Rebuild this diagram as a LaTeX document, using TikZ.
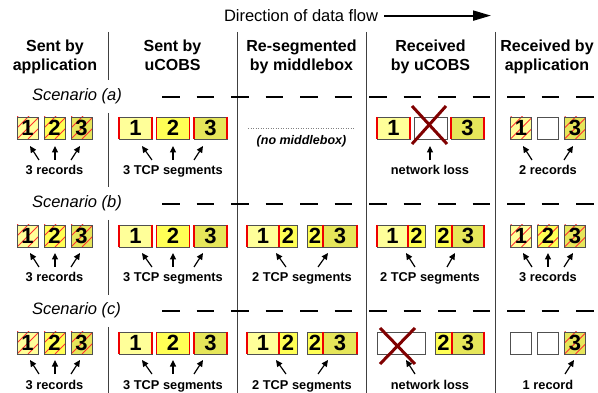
\documentclass[tikz,border=0pt]{standalone}
\usepackage{fontspec}
\setmainfont{Liberation Sans}
\usetikzlibrary{arrows.meta}

\definecolor{fillA}{HTML}{FFFF99}
\definecolor{fillB}{HTML}{FFFF55}
\definecolor{fillC}{HTML}{E6E65A}
\definecolor{edgegray}{HTML}{505050}
\definecolor{seggray}{HTML}{404040}
\definecolor{segred}{HTML}{EE0000}
\definecolor{hatchred}{HTML}{FF3030}
\definecolor{lossred}{HTML}{800000}

% pointer from a label up to a box: name, tip x, tip y, tail x, tail y
\newcommand\pointer[5]{%
  \coordinate (#1t) at (#2,#3);
  \coordinate (#1e) at (#4,#5);
  \draw[ptr] (#1e) -- (#1t);}

\begin{document}
\begin{tikzpicture}[x=1pt,y=-1pt,
  every node/.style={inner sep=0pt, outer sep=0pt},
  head/.style={font=\fontsize{16}{19}\selectfont\bfseries, anchor=base},
  scen/.style={font=\fontsize{16.5}{19}\selectfont\itshape, anchor=base west},
  lbl/.style={font=\fontsize{12.8}{15}\selectfont\bfseries, anchor=base},
  box/.style={draw=edgegray, line width=0.9pt, minimum height=22pt,
    font=\fontsize{22}{22}\selectfont\bfseries},
  hatch/.style={path picture={\foreach \k in {-22,-11,0,11}{%
      \draw[hatchred, line width=0.8pt]
        ([xshift=\k pt]path picture bounding box.south west) -- ++(30pt,30pt);}}},
  rec/.style={box, minimum width=21pt, hatch},
  blank/.style={box, fill=white},
  seg/.style={box, minimum width=#1},
  redge/.style={draw=segred, line width=1.6pt},
  sepline/.style={draw=seggray, line width=0.9pt},
  dashline/.style={draw=black, line width=2pt, dash pattern=on 17.5pt off 17pt},
  ptr/.style={line width=1.2pt, -{Triangle[length=6.5pt,width=6pt]}},
  flow/.style={line width=2pt, -{Triangle[length=18pt,width=10pt]}},
  loss/.style={draw=lossred, line width=3pt},
]
\useasboundingbox (0,0) rectangle (598,393);

% ---------- title arrow ----------
\node[font=\fontsize{16.5}{19}\selectfont, anchor=base west] (dirtxt) at (224,21.5) {Direction of data flow};
\coordinate (dirend) at (491,15);
\draw[flow] ([xshift=6pt]dirtxt.east) -- (dirtxt.east -| dirend);

% ---------- column headings ----------
\node[head] (h1a) at (55,52) {Sent by};
\node[head] (h1b) at (55,71) {application};
\node[head] (h2a) at (172.5,52) {Sent by};
\node[head] (h2b) at (172.5,71) {uCOBS};
\node[head] (h3a) at (301.5,52) {Re-segmented};
\node[head] (h3b) at (301.5,71) {by middlebox};
\node[head] (h4a) at (430.5,52) {Received};
\node[head] (h4b) at (430.5,71) {by uCOBS};
\node[head] (h5a) at (547,52) {Received by};
\node[head] (h5b) at (547,71) {application};

% ---------- column separators ----------
\foreach \i/\ya/\yb in {1/32/80, 2/113/187, 3/220/295, 4/327/393}{
  \coordinate (sa\i) at (108,\ya);
  \coordinate (sb\i) at (108,\yb);
  \draw[sepline] (sa\i) -- (sb\i);}
\foreach \i/\x in {2/237, 3/366, 4/495}{
  \coordinate (vt\i) at (\x,32);
  \coordinate (vb\i) at (\x,393);
  \draw[sepline] (vt\i) -- (vb\i);}

% ---------- scenario headings ----------
\foreach \s/\yb/\yd in {a/100.5/97, b/207.5/204, c/314.5/311}{
  \node[scen] (scen\s) at (32,\yb) {Scenario (\s)};
  \coordinate (dl\s) at (162,\yd);
  \coordinate (dr\s) at (598,\yd);
  \draw[dashline] (dl\s) -- (dr\s);}

% ================= Scenario (a) =================
% sent by application
\node[rec, fill=fillA] (a1r1) at (27.5,128) {1};
\node[rec, fill=fillB] (a1r2) at (54.5,128) {2};
\node[rec, fill=fillC] (a1r3) at (81.5,128) {3};
\node[lbl] (a1lbl) at (54.5,175) {3 records};
\pointer{a1p1}{30}{146}{39}{160}
\pointer{a1p2}{55}{146}{55}{160}
\pointer{a1p3}{80}{146}{71}{160}
% sent by uCOBS
\node[seg=33pt, fill=fillA] (a2s1) at (135.5,128) {1};
\node[seg=33pt, fill=fillB] (a2s2) at (173,128) {2};
\node[seg=33pt, fill=fillC] (a2s3) at (210.5,128) {3};
\foreach \n in {a2s1,a2s2,a2s3}{
  \draw[redge] (\n.north west) -- (\n.south west);
  \draw[redge] (\n.north east) -- (\n.south east);}
\node[lbl] (a2lbl) at (173,175) {3 TCP segments};
\pointer{a2p1}{142}{146}{152}{160}
\pointer{a2p2}{173}{146}{173}{160}
\pointer{a2p3}{203}{146}{194}{160}
% no middlebox
\coordinate (nmL) at (248,128);
\coordinate (nmR) at (355,128);
\draw[gray, line width=0.8pt, dash pattern=on 1pt off 1.5pt] (nmL) -- (nmR);
\node[font=\fontsize{12.5}{15}\selectfont\bfseries\itshape, anchor=base] (nomb) at (301.5,145) {(no middlebox)};
% received by uCOBS
\node[seg=33pt, fill=fillA] (a4s1) at (393.5,128) {1};
\node[seg=33pt, blank] (a4s2) at (430.5,128) {};
\node[seg=33pt, fill=fillC] (a4s3) at (467.5,128) {3};
\foreach \n in {a4s1,a4s3}{
  \draw[redge] (\n.north west) -- (\n.south west);
  \draw[redge] (\n.north east) -- (\n.south east);}
\draw[loss] ([xshift=-18.5pt,yshift=22pt]a4s2.center) -- ([xshift=16.5pt,yshift=-16pt]a4s2.center);
\draw[loss] ([xshift=15.5pt,yshift=22pt]a4s2.center) -- ([xshift=-18.5pt,yshift=-16pt]a4s2.center);
\node[lbl] (a4lbl) at (430,175) {network loss};
\pointer{a4p1}{430}{146}{430}{160}
% received by application
\node[rec, fill=fillA] (a5r1) at (521,128) {1};
\node[box, minimum width=21pt, fill=white] (a5r2) at (548,128) {};
\node[rec, fill=fillC] (a5r3) at (575,128) {3};
\node[lbl] (a5lbl) at (548,175) {2 records};
\pointer{a5p1}{523}{146}{532}{160}
\pointer{a5p3}{573}{146}{564}{160}

% ================= Scenario (b) =================
\node[rec, fill=fillA] (b1r1) at (27.5,236) {1};
\node[rec, fill=fillB] (b1r2) at (54.5,236) {2};
\node[rec, fill=fillC] (b1r3) at (81.5,236) {3};
\node[lbl] (b1lbl) at (54.5,282) {3 records};
\pointer{b1p1}{30}{253}{39}{267}
\pointer{b1p2}{55}{253}{55}{267}
\pointer{b1p3}{80}{253}{71}{267}

\node[seg=33pt, fill=fillA] (b2s1) at (135.5,236) {1};
\node[seg=33pt, fill=fillB] (b2s2) at (173,236) {2};
\node[seg=33pt, fill=fillC] (b2s3) at (210.5,236) {3};
\foreach \n in {b2s1,b2s2,b2s3}{
  \draw[redge] (\n.north west) -- (\n.south west);
  \draw[redge] (\n.north east) -- (\n.south east);}
\node[lbl] (b2lbl) at (173,282) {3 TCP segments};
\pointer{b2p1}{142}{253}{152}{267}
\pointer{b2p2}{173}{253}{173}{267}
\pointer{b2p3}{203}{253}{194}{267}

% re-segmented by middlebox
\node[seg=32pt, fill=fillA] (b3a1) at (263,236) {1};
\node[seg=18pt, fill=fillB] (b3a2) at (288,236) {2};
\node[seg=16pt, fill=fillB] (b3b2) at (315,236) {2};
\node[seg=34pt, fill=fillC] (b3b3) at (340,236) {3};
\draw[redge] (b3a1.north west) -- (b3a1.south west);
\draw[redge] (b3a1.north east) -- (b3a1.south east);
\draw[redge] (b3b3.north west) -- (b3b3.south west);
\draw[redge] (b3b3.north east) -- (b3b3.south east);
\node[lbl] (b3lbl) at (302,282) {2 TCP segments};
\pointer{b3p1}{276}{253}{286}{267}
\pointer{b3p2}{328}{253}{318}{267}

% received by uCOBS
\node[seg=31pt, fill=fillA] (b4a1) at (392.5,236) {1};
\node[seg=17pt, fill=fillB] (b4a2) at (416.5,236) {2};
\node[seg=17pt, fill=fillB] (b4b2) at (443.5,236) {2};
\node[seg=32pt, fill=fillC] (b4b3) at (468,236) {3};
\draw[redge] (b4a1.north west) -- (b4a1.south west);
\draw[redge] (b4a1.north east) -- (b4a1.south east);
\draw[redge] (b4b3.north west) -- (b4b3.south west);
\draw[redge] (b4b3.north east) -- (b4b3.south east);
\node[lbl] (b4lbl) at (430,282) {2 TCP segments};
\pointer{b4p1}{406}{253}{415}{267}
\pointer{b4p2}{455}{253}{447}{267}

% received by application
\node[rec, fill=fillA] (b5r1) at (521,236) {1};
\node[rec, fill=fillB] (b5r2) at (548,236) {2};
\node[rec, fill=fillC] (b5r3) at (575,236) {3};
\node[lbl] (b5lbl) at (548,282) {3 records};
\pointer{b5p1}{523}{253}{532}{267}
\pointer{b5p2}{548}{253}{548}{267}
\pointer{b5p3}{573}{253}{564}{267}

% ================= Scenario (c) =================
\node[rec, fill=fillA] (c1r1) at (27.5,343) {1};
\node[rec, fill=fillB] (c1r2) at (54.5,343) {2};
\node[rec, fill=fillC] (c1r3) at (81.5,343) {3};
\node[lbl] (c1lbl) at (54.5,389) {3 records};
\pointer{c1p1}{30}{360}{39}{374}
\pointer{c1p2}{55}{360}{55}{374}
\pointer{c1p3}{80}{360}{71}{374}

\node[seg=33pt, fill=fillA] (c2s1) at (135.5,343) {1};
\node[seg=33pt, fill=fillB] (c2s2) at (173,343) {2};
\node[seg=33pt, fill=fillC] (c2s3) at (210.5,343) {3};
\foreach \n in {c2s1,c2s2,c2s3}{
  \draw[redge] (\n.north west) -- (\n.south west);
  \draw[redge] (\n.north east) -- (\n.south east);}
\node[lbl] (c2lbl) at (173,389) {3 TCP segments};
\pointer{c2p1}{142}{360}{152}{374}
\pointer{c2p2}{173}{360}{173}{374}
\pointer{c2p3}{203}{360}{194}{374}

\node[seg=32pt, fill=fillA] (c3a1) at (263,343) {1};
\node[seg=18pt, fill=fillB] (c3a2) at (288,343) {2};
\node[seg=16pt, fill=fillB] (c3b2) at (315,343) {2};
\node[seg=34pt, fill=fillC] (c3b3) at (340,343) {3};
\draw[redge] (c3a1.north west) -- (c3a1.south west);
\draw[redge] (c3a1.north east) -- (c3a1.south east);
\draw[redge] (c3b3.north west) -- (c3b3.south west);
\draw[redge] (c3b3.north east) -- (c3b3.south east);
\node[lbl] (c3lbl) at (302,389) {2 TCP segments};
\pointer{c3p1}{276}{360}{286}{374}
\pointer{c3p2}{328}{360}{318}{374}

% received by uCOBS: first segment lost
\node[seg=48pt, blank] (c4a) at (401,343) {};
\node[seg=17pt, fill=fillB] (c4b2) at (443.5,343) {2};
\node[seg=32pt, fill=fillC] (c4b3) at (468,343) {3};
\draw[redge] (c4b3.north west) -- (c4b3.south west);
\draw[redge] (c4b3.north east) -- (c4b3.south east);
\draw[loss] ([xshift=-21pt,yshift=15pt]c4a.center) -- ([xshift=14pt,yshift=-21pt]c4a.center);
\draw[loss] ([xshift=14pt,yshift=15pt]c4a.center) -- ([xshift=-21pt,yshift=-21pt]c4a.center);
\node[lbl] (c4lbl) at (430,389) {network loss};
\pointer{c4p1}{406}{360}{415}{374}

% received by application
\node[box, minimum width=21pt, fill=white] (c5r1) at (521,343) {};
\node[box, minimum width=21pt, fill=white] (c5r2) at (548,343) {};
\node[rec, fill=fillC] (c5r3) at (575,343) {3};
\node[lbl] (c5lbl) at (548,389) {1 record};
\pointer{c5p3}{574}{360}{565}{374}
\end{tikzpicture}
\end{document}
